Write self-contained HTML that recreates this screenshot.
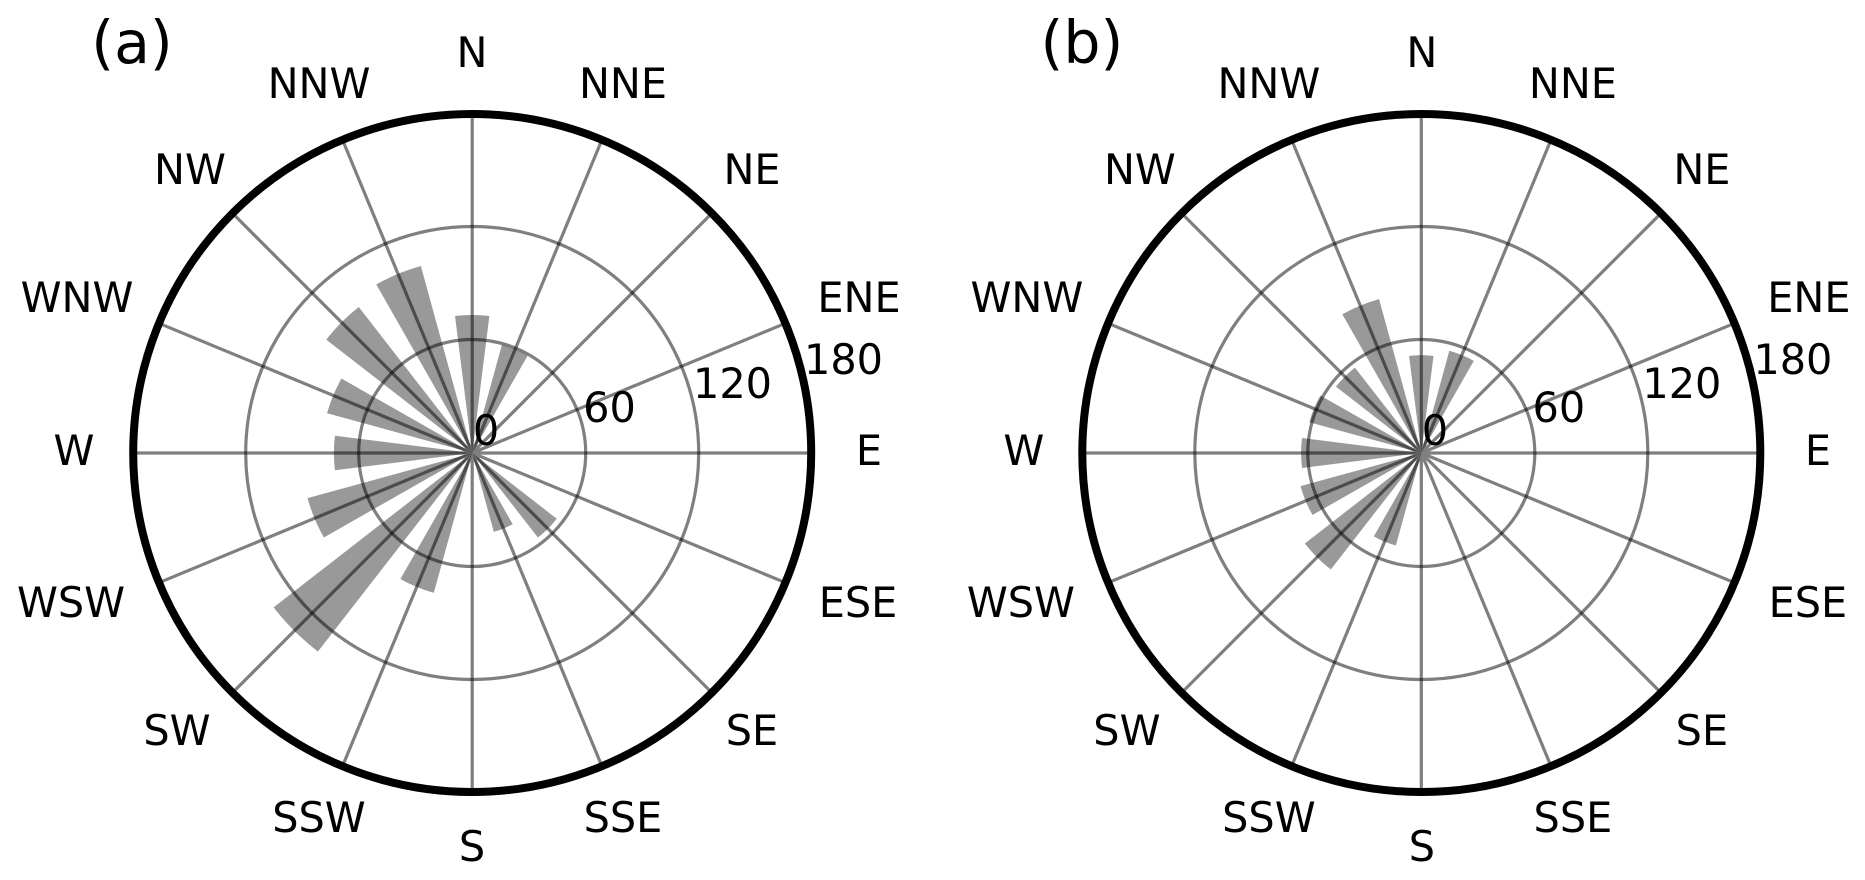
<!DOCTYPE html>
<html><head><meta charset="utf-8"><style>
html,body{margin:0;padding:0;background:#fff;width:1865px;height:880px;overflow:hidden}
svg{display:block}
text{font-family:"DejaVu Sans",sans-serif;font-size:41.4px;fill:#000;text-anchor:middle}
.t{font-size:58.5px}
.b{fill:#000;fill-opacity:.4;stroke:none}
.g{fill:none;stroke:#000;stroke-opacity:.5;stroke-width:3.2}
</style></head><body>
<svg width="1865" height="880" viewBox="0 0 1865 880" xmlns="http://www.w3.org/2000/svg">
<rect width="1865" height="880" fill="#fff"/>
<g id="a" transform="translate(472.2 453)">
<g class="b">
<path transform="rotate(0) scale(1.01)" d="M0 0L-17 -135.6A136.7 136.7 0 0 1 17 -135.6Z"/>
<path transform="rotate(22.5) scale(1.01)" d="M0 0L-13.8 -110.1A111 111 0 0 1 13.8 -110.1Z"/>
<path transform="rotate(135) scale(1.01)" d="M0 0L-13.2 -105.2A106 106 0 0 1 13.2 -105.2Z"/>
<path transform="rotate(157.5) scale(1.01)" d="M0 0L-10.1 -80.4A81 81 0 0 1 10.1 -80.4Z"/>
<path transform="rotate(202.5) scale(1.01)" d="M0 0L-17.9 -142.5A143.6 143.6 0 0 1 17.9 -142.5Z"/>
<path transform="rotate(225) scale(1.01)" d="M0 0L-31 -247.1A249 249 0 0 1 31 -247.1Z"/>
<path transform="rotate(247.5) scale(1.01)" d="M0 0L-21.1 -167.7A169 169 0 0 1 21.1 -167.7Z"/>
<path transform="rotate(270) scale(1.01)" d="M0 0L-17.1 -135.9A137 137 0 0 1 17.1 -135.9Z"/>
<path transform="rotate(292.5) scale(1.01)" d="M0 0L-18.6 -147.8A149 149 0 0 1 18.6 -147.8Z"/>
<path transform="rotate(315) scale(1.01)" d="M0 0L-22.8 -181.6A183 183 0 0 1 22.8 -181.6Z"/>
<path transform="rotate(337.5) scale(1.01)" d="M0 0L-23.9 -190.5A192 192 0 0 1 23.9 -190.5Z"/>
</g>
<g class="g">
<circle r="113.5"/><circle r="226.5"/>
<path d="M0 0L339 0M0 0L313.2 129.7M0 0L239.7 239.7M0 0L129.7 313.2M0 0L0 339M0 0L-129.7 313.2M0 0L-239.7 239.7M0 0L-313.2 129.7M0 0L-339 0M0 0L-313.2 -129.7M0 0L-239.7 -239.7M0 0L-129.7 -313.2M0 0L0 -339M0 0L129.7 -313.2M0 0L239.7 -239.7M0 0L313.2 -129.7"/>
</g>
<circle r="339" fill="none" stroke="#000" stroke-width="8"/>
</g>
<g transform="translate(0 0.8)">
<text class="t" x="132" y="62.2">(a)</text>
<text x="472" y="66">N</text>
<text x="623" y="97">NNE</text>
<text x="752" y="183">NE</text>
<text x="859" y="311">ENE</text>
<text x="869" y="464">E</text>
<text x="858" y="616">ESE</text>
<text x="752" y="744">SE</text>
<text x="623" y="831">SSE</text>
<text x="472" y="860">S</text>
<text x="319" y="831">SSW</text>
<text x="177" y="744">SW</text>
<text x="71" y="616">WSW</text>
<text x="74" y="464">W</text>
<text x="77" y="311">WNW</text>
<text x="190" y="183">NW</text>
<text x="319" y="97">NNW</text>
<text x="486" y="444">0</text>
<text x="609.5" y="421">60</text>
<text x="732.5" y="397">120</text>
<text x="843.5" y="373">180</text>
</g>
<g id="b" transform="translate(1421.3 453)">
<g class="b">
<path transform="rotate(0) scale(1.01)" d="M0 0L-12.1 -96.2A97 97 0 0 1 12.1 -96.2Z"/>
<path transform="rotate(22.5) scale(1.01)" d="M0 0L-13.1 -104.2A105 105 0 0 1 13.1 -104.2Z"/>
<path transform="rotate(202.5) scale(1.01)" d="M0 0L-11.8 -94.3A95 95 0 0 1 11.8 -94.3Z"/>
<path transform="rotate(225) scale(1.01)" d="M0 0L-18.2 -144.9A146 146 0 0 1 18.2 -144.9Z"/>
<path transform="rotate(247.5) scale(1.01)" d="M0 0L-15.5 -123A124 124 0 0 1 15.5 -123Z"/>
<path transform="rotate(270) scale(1.01)" d="M0 0L-14.8 -118.1A119 119 0 0 1 14.8 -118.1Z"/>
<path transform="rotate(292.5) scale(1.01)" d="M0 0L-14.3 -114.1A115 115 0 0 1 14.3 -114.1Z"/>
<path transform="rotate(315) scale(1.01)" d="M0 0L-13.3 -106.2A107 107 0 0 1 13.3 -106.2Z"/>
<path transform="rotate(337.5) scale(1.01)" d="M0 0L-19.7 -156.8A158 158 0 0 1 19.7 -156.8Z"/>
</g>
<g class="g">
<circle r="113.5"/><circle r="226.5"/>
<path d="M0 0L339 0M0 0L313.2 129.7M0 0L239.7 239.7M0 0L129.7 313.2M0 0L0 339M0 0L-129.7 313.2M0 0L-239.7 239.7M0 0L-313.2 129.7M0 0L-339 0M0 0L-313.2 -129.7M0 0L-239.7 -239.7M0 0L-129.7 -313.2M0 0L0 -339M0 0L129.7 -313.2M0 0L239.7 -239.7M0 0L313.2 -129.7"/>
</g>
<circle r="339" fill="none" stroke="#000" stroke-width="8"/>
</g>
<g transform="translate(949.9 0.8)">
<text class="t" x="132" y="62.2">(b)</text>
<text x="472" y="66">N</text>
<text x="623" y="97">NNE</text>
<text x="752" y="183">NE</text>
<text x="859" y="311">ENE</text>
<text x="868" y="464">E</text>
<text x="858" y="616">ESE</text>
<text x="752" y="744">SE</text>
<text x="623" y="831">SSE</text>
<text x="472" y="860">S</text>
<text x="319" y="831">SSW</text>
<text x="177" y="744">SW</text>
<text x="71" y="616">WSW</text>
<text x="74" y="464">W</text>
<text x="77" y="311">WNW</text>
<text x="190" y="183">NW</text>
<text x="319" y="97">NNW</text>
<text x="485" y="444">0</text>
<text x="609" y="421">60</text>
<text x="732" y="397">120</text>
<text x="843" y="373">180</text>
</g>
</svg>
</body></html>
